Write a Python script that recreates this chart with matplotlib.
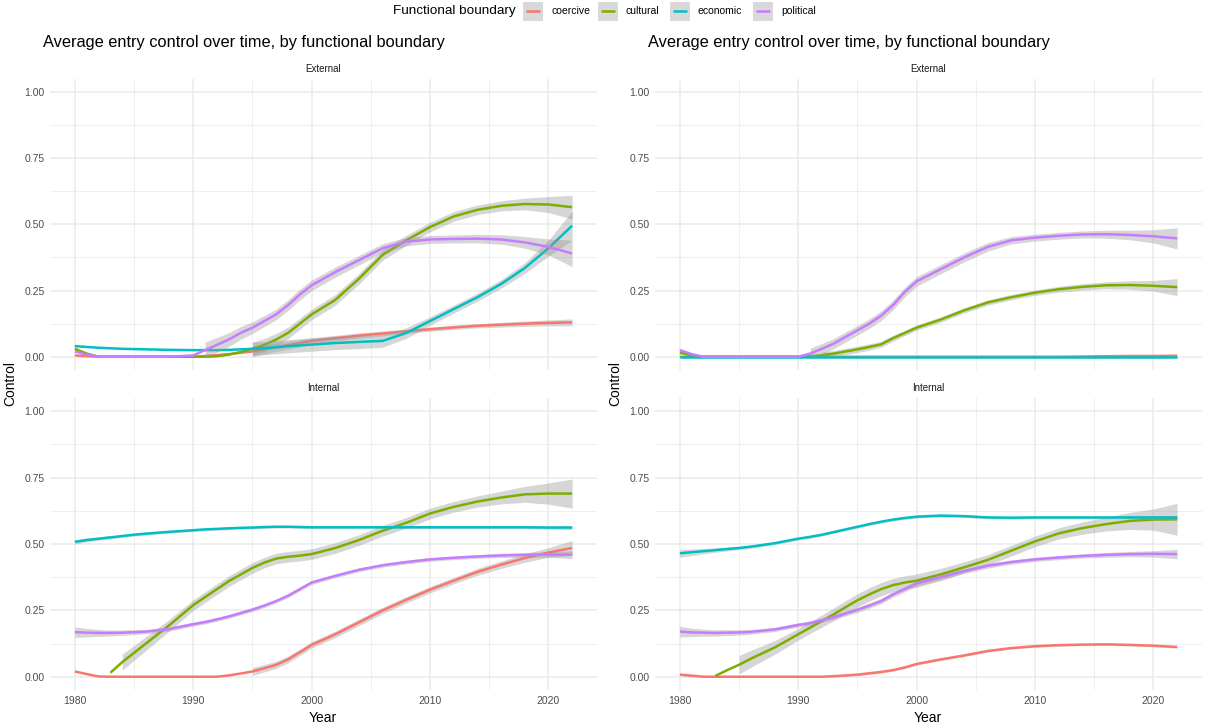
import numpy as np
import matplotlib
matplotlib.use("Agg")
import matplotlib.pyplot as plt
from matplotlib.patches import Rectangle

plt.rcParams["font.family"] = ["Liberation Sans", "DejaVu Sans"]

nan = np.nan

# sample years of the smoothed curves
years = [1980, 1981, 1982, 1983, 1984, 1985, 1986, 1988, 1990, 1991,
         1992, 1993, 1994, 1995, 1996, 1997, 1998, 1999, 2000, 2002,
         2004, 2006, 2008, 2010, 2012, 2014, 2016, 2018, 2020, 2022]

boundaries = ["coercive", "cultural", "economic", "political"]
colors = ["#F8766D", "#7CAE00", "#00BFC4", "#C77CFF"]

# left chart, External
le_coercive = [.005, .002, 0, 0, 0, 0, 0, 0, 0, .003, .006, .01, .015, .02, .028, .036, .044, .052, .06, .07,
               .08, .088, .096, .104, .111, .117, .121, .125, .128, .13]
le_coercive_se = [nan]*13 + [.02, .018, .016, .015, .014, .012, .011, .01, .009, .008, .008, .008, .008, .009, .01, .011, .013]
le_cultural = [.03, .012, 0, 0, 0, 0, 0, 0, 0, 0, .002, .008, .018, .03, .045, .065, .09, .125, .16, .215,
               .295, .385, .44, .49, .53, .555, .57, .577, .575, .565]
le_cultural_se = [nan]*13 + [.025, .024, .023, .022, .021, .02, .02, .02, .02, .019, .018, .018, .018, .019, .022, .03, .045]
le_economic = [.04, .037, .034, .032, .03, .029, .028, .026, .025, .025, .025, .026, .028, .03, .033, .036, .04, .043, .046, .052,
               .056, .06, .09, .135, .18, .225, .275, .335, .41, .495]
le_economic_se = [nan]*13 + [.025, .025, .025, .025, .025, .025, .025, .025, .024, .02, .016, .015, .015, .016, .02, .03, .055]
le_political = [.02, .008, 0, 0, 0, 0, 0, 0, .005, .025, .045, .065, .09, .11, .135, .16, .195, .235, .27, .32,
                .365, .41, .435, .443, .445, .446, .443, .432, .415, .39]
le_political_se = [nan]*9 + [.03, .028, .026, .024, .022, .021, .02, .02, .02, .02, .019, .018, .017, .016, .015, .015, .016, .018, .022, .03, .05]

# left chart, Internal
li_coercive = [.02, .01, .001, 0, 0, 0, 0, 0, 0, 0, 0, .005, .012, .02, .032, .045, .065, .092, .12, .16,
               .205, .25, .29, .328, .362, .395, .422, .447, .468, .485]
li_coercive_se = [nan]*13 + [.015, .014, .013, .013, .012, .012, .012, .012, .012, .012, .012, .012, .013, .014, .016, .018, .028]
li_cultural = [nan, nan, nan, .015, .055, .09, .125, .195, .27, .3, .33, .36, .385, .41, .43, .445, .452, .456, .462, .485,
               .515, .55, .58, .615, .64, .66, .675, .687, .69, .69]
li_cultural_se = [nan, nan, nan, nan, .03, .028, .026, .022, .02, .02, .02, .02, .02, .02, .02, .02, .02, .02, .02, .02,
                  .02, .02, .02, .02, .02, .021, .024, .03, .04, .055]
li_economic = [.508, .515, .52, .525, .53, .535, .539, .546, .552, .555, .557, .559, .561, .562, .564, .565, .565, .564, .563, .563,
               .563, .563, .563, .563, .563, .563, .563, .563, .562, .562]
li_economic_se = [.008, .007, .006, .006, .005, .005, .005, .005, .005, .005, .005, .005, .005, .005, .005, .005, .005, .005, .005, .005,
                  .005, .005, .005, .005, .005, .005, .005, .005, .006, .008]
li_political = [.168, .166, .165, .165, .166, .168, .17, .18, .198, .206, .216, .227, .24, .253, .268, .285, .305, .33, .355, .38,
                .403, .42, .432, .442, .448, .453, .457, .459, .46, .46]
li_political_se = [.02, .016, .013, .011, .01, .009, .008, .008, .007, .007, .007, .007, .007, .007, .007, .007, .007, .007, .007, .007,
                   .007, .007, .007, .007, .007, .007, .008, .009, .01, .015]

# right chart, External
re_coercive = [0]*25 + [.001, .002, .003, .003, .004]
re_coercive_se = [.002]*30
re_cultural = [.015, .005, 0, 0, 0, 0, 0, 0, 0, .002, .006, .012, .02, .028, .037, .047, .07, .09, .11, .14,
               .175, .205, .225, .242, .255, .264, .27, .271, .268, .263]
re_cultural_se = [nan]*10 + [.012, .012, .012, .012, .012, .011, .011, .01, .01, .01, .01, .01, .01, .01, .011, .012, .013, .016, .02, .032]
re_economic = [0]*30
re_economic_se = [.002]*30
re_political = [.025, .01, 0, 0, 0, 0, 0, 0, 0, .012, .03, .05, .075, .1, .125, .155, .195, .245, .285, .33,
                .375, .415, .44, .45, .457, .462, .463, .46, .455, .447]
re_political_se = [nan]*9 + [.02, .02, .019, .019, .018, .018, .018, .018, .018, .018, .017, .017, .016, .014, .013, .013, .013, .015, .018, .025, .04]

# right chart, Internal
ri_coercive = [.008, .004, 0, 0, 0, 0, 0, 0, 0, 0, 0, .002, .005, .008, .013, .018, .025, .035, .048, .065,
               .08, .097, .108, .115, .119, .121, .122, .12, .117, .112]
ri_coercive_se = [.004]*30
ri_cultural = [nan, nan, nan, .003, .025, .045, .068, .11, .16, .185, .21, .235, .262, .288, .31, .33, .345, .355, .362, .385,
               .412, .44, .475, .51, .54, .56, .575, .587, .592, .593]
ri_cultural_se = [nan]*5 + [.035, .032, .026, .022, .022, .023, .024, .025, .025, .025, .025, .025, .025, .025, .023,
                            .021, .02, .02, .02, .021, .023, .026, .032, .04, .06]
ri_economic = [.465, .469, .473, .477, .481, .485, .49, .503, .52, .527, .535, .545, .555, .565, .575, .584, .592, .598, .603, .607,
               .605, .6, .599, .6, .6, .6, .6, .6, .6, .6]
ri_economic_se = [.015, .012, .01, .008, .007, .006, .006, .005, .005, .005, .005, .005, .005, .005, .005, .005, .005, .005, .005, .005,
                  .005, .005, .005, .005, .005, .005, .005, .005, .006, .008]
ri_political = [.17, .167, .166, .165, .166, .167, .169, .178, .195, .202, .213, .225, .238, .252, .268, .285, .31, .33, .352, .375,
                .398, .418, .432, .442, .449, .455, .459, .462, .463, .462]
ri_political_se = [.02, .016, .013, .012, .011, .01, .009, .008, .008, .008, .008, .009, .009, .01, .01, .01, .01, .01, .01, .01,
                   .009, .009, .008, .008, .008, .008, .009, .01, .012, .018]

charts = {
    "left": {
        "External": [(le_coercive, le_coercive_se), (le_cultural, le_cultural_se),
                     (le_economic, le_economic_se), (le_political, le_political_se)],
        "Internal": [(li_coercive, li_coercive_se), (li_cultural, li_cultural_se),
                     (li_economic, li_economic_se), (li_political, li_political_se)],
    },
    "right": {
        "External": [(re_coercive, re_coercive_se), (re_cultural, re_cultural_se),
                     (re_economic, re_economic_se), (re_political, re_political_se)],
        "Internal": [(ri_coercive, ri_coercive_se), (ri_cultural, ri_cultural_se),
                     (ri_economic, ri_economic_se), (ri_political, ri_political_se)],
    },
}

W, H = 1206, 725
fig = plt.figure(figsize=(W / 100, H / 100), dpi=100)

band_col = "#999999"
grid_col = "#EBEBEB"
text_col = "#4D4D4D"


def px(x0, y0, x1, y1):
    return [x0 / W, 1 - y1 / H, (x1 - x0) / W, (y1 - y0) / H]


def style(ax, show_x):
    ax.set_xlim(1977.9, 2024.1)
    ax.set_ylim(-0.05, 1.05)
    ax.set_facecolor("white")
    for s in ax.spines.values():
        s.set_visible(False)
    ax.set_xticks([1980, 1990, 2000, 2010, 2020])
    ax.set_xticks([1985, 1995, 2005, 2015], minor=True)
    ax.set_yticks([0, .25, .5, .75, 1])
    ax.set_yticklabels(["0.00", "0.25", "0.50", "0.75", "1.00"])
    ax.set_yticks([.125, .375, .625, .875], minor=True)
    ax.grid(which="major", color=grid_col, lw=1.1)
    ax.grid(which="minor", color=grid_col, lw=0.55)
    ax.set_axisbelow(True)
    ax.tick_params(which="both", length=0, labelsize=7.5, labelcolor=text_col, pad=4)
    if not show_x:
        ax.set_xticklabels([])


yr = np.array(years)
lefts = {"left": 50, "right": 655}
for side, x0 in lefts.items():
    facets = charts[side]
    for name, (y0, y1) in [("External", (78.75, 370)), ("Internal", (398, 690))]:
        ax = fig.add_axes(px(x0, y0, x0 + 547, y1))
        style(ax, name == "Internal")
        for k, (vals, se) in enumerate(facets[name]):
            v = np.array(vals, dtype=float)
            e = np.array(se, dtype=float)
            lo = np.clip(v - e, 0, None)
            hi = v + e
            ax.fill_between(yr, lo, hi, color=band_col, alpha=0.4, lw=0, zorder=2 + 2 * k)
            ax.plot(yr, v, color=colors[k], lw=1.8, zorder=3 + 2 * k, solid_capstyle="butt")
        ax.text(0.5, 1.0 + 10 / (y1 - y0), name, transform=ax.transAxes, ha="center",
                va="center", fontsize=7, color="#1A1A1A")
    fig.text((x0 + 273) / W, 1 - 718 / H, "Year", ha="center", va="center", fontsize=10)
    fig.text((x0 - 40) / W, 1 - 384 / H, "Control", ha="center", va="center",
             fontsize=10, rotation=90)
    fig.text((x0 - 7) / W, 1 - 42 / H, "Average entry control over time, by functional boundary",
             ha="left", va="center", fontsize=11.8)

# shared legend across the top, drawn in pixel space
lax = fig.add_axes([0, 0, 1, 1], zorder=-1)
lax.set_xlim(0, W)
lax.set_ylim(H, 0)
lax.axis("off")
lax.text(393, 11, "Functional boundary", ha="left", va="center", fontsize=9.7)
key_x = [523, 598, 670, 753]
for kx, c, lab in zip(key_x, colors, boundaries):
    lax.add_patch(Rectangle((kx, 1.5), 20, 19, facecolor="#D9D9D9", edgecolor="none"))
    lax.plot([kx + 3, kx + 17], [11, 11], color=c, lw=1.8, solid_capstyle="butt")
    lax.text(kx + 28, 11, lab, ha="left", va="center", fontsize=7.5)

fig.savefig("out.png", dpi=100, facecolor="white")
